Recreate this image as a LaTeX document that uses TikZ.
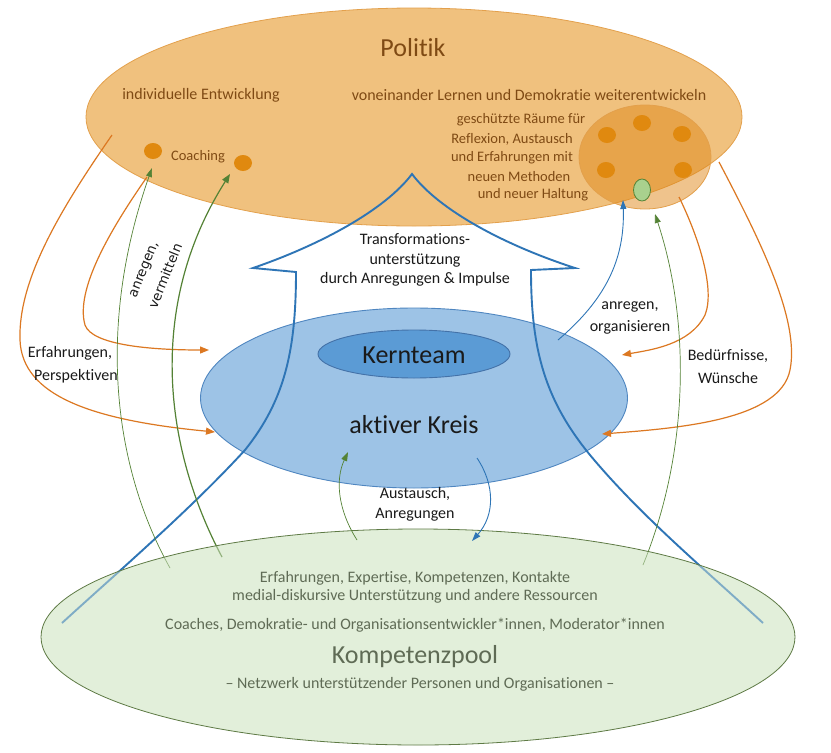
\documentclass[tikz,border=0pt]{standalone}
\usepackage{fontspec}
\setmainfont{Carlito}[Ligatures={NoCommon}]
\newfontfamily\vfont{DejaVu Sans}
\usetikzlibrary{shapes.geometric,arrows.meta}
\definecolor{polfill}{HTML}{F0C17E}
\definecolor{poldraw}{HTML}{E3A04C}
\definecolor{poltext}{HTML}{7F4A14}
\definecolor{dotc}{HTML}{E0890F}
\definecolor{raumfill}{HTML}{E0891A}
\definecolor{orl}{HTML}{DC7822}
\definecolor{grl}{HTML}{548235}
\definecolor{bll}{HTML}{2E75B6}
\definecolor{aktfill}{HTML}{9DC3E6}
\definecolor{aktdraw}{HTML}{4F86C0}
\definecolor{kernfill}{HTML}{5B9BD5}
\definecolor{kerndraw}{HTML}{4472A8}
\definecolor{poolfill}{HTML}{E2EFDA}
\definecolor{pooldraw}{HTML}{5E7A45}
\definecolor{pooltext}{HTML}{5F6B55}
\definecolor{gdot}{HTML}{A9D18E}
\definecolor{txtc}{HTML}{1A1A1A}
\begin{document}
\begin{tikzpicture}[x=1pt,y=-1pt,
  ell/.style={ellipse,inner sep=0pt,outer sep=0pt},
  txt/.style={inner sep=0pt,font=\fontsize{16}{19.5}\selectfont,align=center},
  stxt/.style={inner sep=0pt,font=\fontsize{14.5}{18.5}\selectfont,align=center},
  bigtxt/.style={inner sep=0pt,font=\fontsize{26}{30}\selectfont},
  rottxt/.style={inner sep=0pt,rotate=68,text=txtc,font=\vfont\fontsize{13.3}{20}\selectfont},
  orarrow/.style={orl,line width=1.2pt,-{Triangle[length=9pt,width=7pt]}},
  grarrow/.style={grl,line width=0.7pt,-{Triangle[length=9pt,width=6pt]}},
  grarrowb/.style={grl,line width=1.2pt,-{Triangle[length=9pt,width=7pt]}},
  blarrow/.style={bll,line width=0.9pt,-{Triangle[length=9pt,width=6pt]}},
  dotn/.style={ell,fill=dotc,minimum width=18pt,minimum height=16pt},
  bigarrow/.style={bll,line width=1.9pt,line join=miter},
]
\useasboundingbox (0,0) rectangle (831,753);
\fill[white] (0,0) rectangle (831,753);

% Politik
\node[ell,fill=polfill,draw=poldraw,line width=0.8pt,minimum width=656pt,minimum height=218pt] (pol) at (414,117) {};
\node[bigtxt,text=poltext] (poltitle) at (413,48) {Politik};
\node[txt,text=poltext] (indiv) at (201,95) {individuelle Entwicklung};
\node[txt,text=poltext] (vonein) at (529,95) {voneinander Lernen und Demokratie weiterentwickeln};
\node[dotn] (d1) at (153,151) {};
\node[dotn] (d2) at (243,163) {};
\node[stxt,text=poltext] (coach) at (198,157) {Coaching};
% Raum
\node[ell,fill=raumfill,fill opacity=0.5,draw=poldraw,line width=0.8pt,minimum width=132pt,minimum height=104pt] (raum) at (645,157) {};
\node[dotn] (r1) at (642,123) {};
\node[dotn] (r2) at (607,135) {};
\node[dotn] (r3) at (682,134) {};
\node[dotn] (r4) at (606,170) {};
\node[dotn] (r5) at (683,170) {};
\node[ell,fill=gdot,draw=grl,line width=0.8pt,minimum width=17pt,minimum height=22pt] (gd) at (642,190) {};
\node[stxt,text=poltext] (t1) at (521,120) {geschützte Räume für};
\node[stxt,text=poltext] (t2) at (512,139) {Reflexion, Austausch};
\node[stxt,text=poltext] (t3) at (512,158) {und Erfahrungen mit};
\node[stxt,text=poltext] (t4) at (519,177) {neuen Methoden};
\node[stxt,text=poltext] (t5) at (533,195) {und neuer Haltung};

% Kompetenzpool (opaque base)
\node[ell,fill=poolfill,minimum width=754pt,minimum height=216pt] (pool) at (418,637) {};

% aktiver Kreis
\node[ell,fill=aktfill,draw=aktdraw,line width=0.9pt,minimum width=427pt,minimum height=180pt] (akt) at (414,398) {};
\node[ell,fill=kernfill,draw=kerndraw,line width=0.9pt,minimum width=192pt,minimum height=48pt] (kern) at (414,354) {};
\node[bigtxt,text=txtc] (kerntxt) at (414,355) {Kernteam};
\node[bigtxt,text=txtc] (akttxt) at (414,425) {aktiver Kreis};

% big arrow
\coordinate (abl) at (62,623);
\coordinate (asl) at (296,272);
\coordinate (bbl) at (253,268);
\coordinate (atip) at (412,174);
\coordinate (bbr) at (575,268);
\coordinate (asr) at (531,270);
\coordinate (abr) at (763,623);
\draw[bigarrow] (abl) .. controls (120,570) and (190,510) .. (245,450)
  .. controls (285,400) and (296,350) .. (asl) -- (bbl)
  .. controls (320,245) and (385,210) .. (atip)
  .. controls (439,210) and (504,245) .. (bbr) -- (asr)
  .. controls (531,350) and (545,400) .. (590,455)
  .. controls (640,515) and (700,565) .. (abr);
\node[txt,text=txtc] (trans) at (415,260) {Transformations-\\unterstützung\\durch Anregungen \& Impulse};

% orange connectors
\coordinate (o1s) at (112,135); \coordinate (o1e) at (215,432);
\coordinate (o2s) at (147,177); \coordinate (o2e) at (209,350);
\coordinate (o3s) at (679,197); \coordinate (o3e) at (622,355);
\coordinate (o4s) at (719,162); \coordinate (o4e) at (602,434);
\draw[orarrow] (o1s) .. controls (60,210) and (18,280) .. (20,340) .. controls (22,395) and (90,420) .. (o1e);
\draw[orarrow] (o2s) .. controls (110,230) and (75,290) .. (85,325) .. controls (92,345) and (150,350) .. (o2e);
\draw[orarrow] (o3s) .. controls (700,240) and (715,290) .. (705,315) .. controls (690,345) and (650,350) .. (o3e);
\draw[orarrow] (o4s) .. controls (760,240) and (800,320) .. (790,370) .. controls (780,420) and (680,428) .. (o4e);

% green connectors
\coordinate (g1s) at (170,568); \coordinate (g1e) at (152,168);
\coordinate (g2s) at (222,557); \coordinate (g2e) at (230,174);
\coordinate (g3s) at (643,565); \coordinate (g3e) at (655,214);
\draw[grarrow] (g1s) .. controls (115,470) and (95,330) .. (g1e);
\draw[grarrowb] (g2s) .. controls (160,440) and (150,300) .. (g2e);
\draw[grarrow] (g3s) .. controls (690,450) and (690,320) .. (g3e);

% blue small connector up
\coordinate (b1s) at (558,340); \coordinate (b1e) at (623,200);
\draw[blarrow] (b1s) .. controls (605,300) and (625,260) .. (b1e);

% pool overlay
\node[ell,fill=poolfill,fill opacity=0.45,draw=pooldraw,line width=0.8pt,minimum width=754pt,minimum height=216pt] (poolov) at (418,637) {};

% small exchange connectors
\coordinate (g4s) at (357,540); \coordinate (g4e) at (348,452);
\coordinate (b2s) at (477,458); \coordinate (b2e) at (472,541);
\draw[grarrow] (g4s) .. controls (338,510) and (335,480) .. (g4e);
\draw[blarrow] (b2s) .. controls (495,485) and (495,515) .. (b2e);

% labels
\node[txt,text=txtc] (erf1) at (70,353) {Erfahrungen,};
\node[txt,text=txtc] (erf2) at (76,376) {Perspektiven};
\node[txt,text=txtc] (bed1) at (728,356) {Bedürfnisse,};
\node[txt,text=txtc] (bed2) at (728,378) {Wünsche};
\node[txt,text=txtc] (anr1) at (630,307) {anregen,};
\node[txt,text=txtc] (anr2) at (630,327) {organisieren};
\node[txt,text=txtc] (aus1) at (415,494) {Austausch,};
\node[txt,text=txtc] (aus2) at (415,515) {Anregungen};
\node[rottxt] (verm1) at (145,270) {anregen,};
\node[rottxt] (verm2) at (165,276) {vermitteln};

% pool texts
\node[txt,text=pooltext] (p1) at (415,578) {Erfahrungen, Expertise, Kompetenzen, Kontakte};
\node[txt,text=pooltext] (p2) at (415,596) {medial-diskursive Unterstützung und andere Ressourcen};
\node[txt,text=pooltext] (p3) at (415,625) {Coaches, Demokratie- und Organisationsentwickler*innen, Moderator*innen};
\node[bigtxt,text=pooltext] (p4) at (415,657) {Kompetenzpool};
\node[txt,text=pooltext] (p5) at (420,684) {– Netzwerk unterstützender Personen und Organisationen –};
\end{tikzpicture}
\end{document}
